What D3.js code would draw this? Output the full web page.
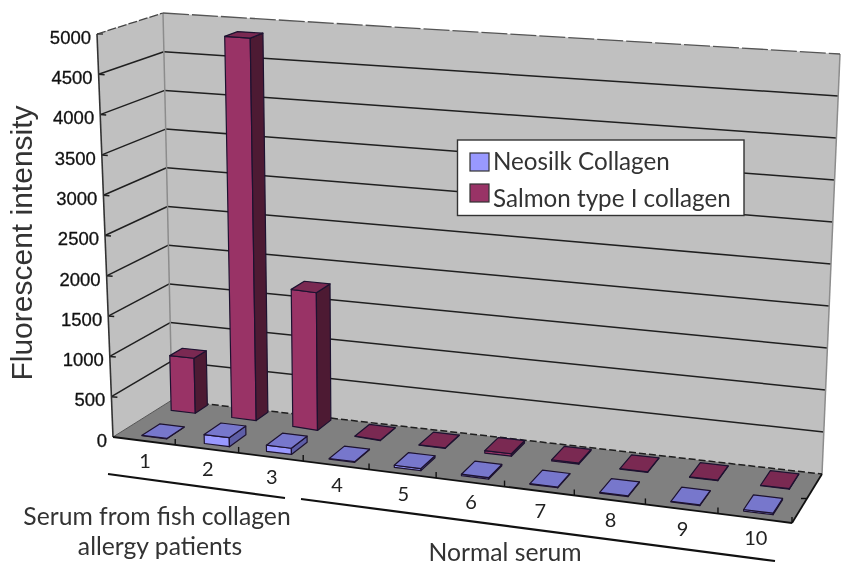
<!DOCTYPE html>
<html><head><meta charset="utf-8">
<script src="https://cdn.jsdelivr.net/npm/d3@7/dist/d3.min.js"></script>
<style>html,body{margin:0;padding:0;background:#fff}svg{display:block;filter:blur(0.6px)}</style>
</head><body><svg id="c" width="853" height="575"></svg>
<script>
const categories = ["1","2","3","4","5","6","7","8","9","10"];
const seriesNames = ["Neosilk Collagen","Salmon type I collagen"];
const neosilk = [5,110,75,8,25,18,8,8,8,18];
const salmon = [700,4830,1720,6,6,30,15,6,6,6];
const yTicks = [0,500,1000,1500,2000,2500,3000,3500,4000,4500,5000];
const groupNotes = [
  {lines:["Serum from fish collagen","allergy patients"]},
  {lines:["Normal serum"]}
];

const svg = d3.select("#c");
// Box corners: floor (F) and top (T); l/r = left/right, f/b = front/back
const F = {lf:[113,437],rf:[792,523],lb:[172,400],rb:[822,474]};
const T = {lf:[97,34],rf:[816,85],lb:[163,13],rb:[840,54]};
const lerp=(a,b,t)=>[a[0]+(b[0]-a[0])*t,a[1]+(b[1]-a[1])*t];
const bil=(C,u,w)=>lerp(lerp(C.lf,C.rf,u),lerp(C.lb,C.rb,u),w);
const P=(u,v,w)=>lerp(bil(F,u,w),bil(T,u,w),v);
// near the left wall the far row recedes and compresses, as the original's perspective does
const nearLeft=u=>Math.max(0,Math.min(1,(0.35-u)/0.2));
const PB=(u,v,w)=>{
  const k=nearLeft(u), far=w>0.5;
  const w2=far?w+k*(0.123-0.307*(w-0.637)):w;
  return P(u+k*(far?-0.007:0.006),v,w2);
};

const warp=t=>0.908*t/(1-0.092*t);
const xBand=d3.scaleBand().domain(categories).range([0,1]).paddingInner(0.6).paddingOuter(0.3);
const xEdge=d3.scaleLinear().domain([0,categories.length]).range([0,1]);
const yVal=d3.scaleLinear().domain([0,5000]).range([0,1]);
const zBand=d3.scaleBand().domain(seriesNames).range([0.006,1.046]).paddingInner(0.423).paddingOuter(0.2);
const line=d3.line();
const poly=(pts,fill,stroke,sw)=>svg.append("path").attr("d",line(pts)+"Z").attr("fill",fill).attr("stroke",stroke||"none").attr("stroke-width",sw||1).attr("stroke-linejoin","round");
const seg=(a,b,stroke,sw,dash)=>svg.append("path").attr("d",line([a,b])).attr("fill","none").attr("stroke",stroke).attr("stroke-width",sw).attr("stroke-dasharray",dash||null);

// walls and floor
poly([P(0,0,1),P(1,0,1),P(1,1,1),P(0,1,1)],"#c0c0c0");
poly([P(0,0,0),P(0,0,1),P(0,1,1),P(0,1,0)],"#c0c0c0");
poly([P(0,0,0),P(1,0,0),P(1,0,1),P(0,0,1)],"#808080");
// grid lines
yTicks.filter(d=>d>0&&d<5000).forEach(d=>{
  const v=yVal(d);
  seg(P(0,v,0),P(0,v,1),"#1f1f1f",1.5);
  seg(P(0,v,1),P(1,v,1),"#1f1f1f",1.5);
  seg(P(0,v,0),[P(0,v,0)[0]+6,P(0,v,0)[1]+0.5],"#1f1f1f",1.5);
});
// wall edges
seg(P(0,1,1),P(0,0,1),"#8c8c8c",1.5);
seg(P(1,1,1),P(1,0,1),"#8c8c8c",1.5);
seg(P(0,1,0),P(0,1,1),"#444",1.3,"9 2");
seg(P(0,1,1),P(1,1,1),"#555",1.3,"26 3");
seg(P(0,0,1),P(1,0,1),"#1f1f1f",1.5,"7 3");
seg(P(0,0,0),P(0,0,1),"#555",1);
seg(P(0,1,0),P(0,0,0),"#333",1.6);
seg(P(0,1,0),[P(0,1,0)[0]+6,P(0,1,0)[1]],"#333",1.4);
seg(P(0,0,0),P(1,0,0),"#111",1.8);
seg(P(1,0,0),P(1,0,1),"#111",1.8);
// axis ticks
d3.range(1,categories.length+1).forEach(i=>{
  const p=P(warp(xEdge(i)),0,0);
  seg(p,[p[0],p[1]-6],"#111",1.4);
});
{const p=P(1,0,0.5); seg(p,[p[0]-6,p[1]],"#111",1.4);}

// bars
const palettes={
  "Neosilk Collagen":{front:"#9999ff",side:"#5e5ea6",top:"#7777cc"},
  "Salmon type I collagen":{front:"#993366",side:"#4d1a33",top:"#7a2952"}
};
function bar(cat,name,val){
  const u0=warp(xBand(cat)),u1=warp(xBand(cat)+xBand.bandwidth());
  const w0=zBand(name),w1=w0+zBand.bandwidth(),v=yVal(val),c=palettes[name];
  poly([PB(u0,v,w0),PB(u1,v,w0),PB(u1,0,w0),PB(u0,0,w0)],c.front,"#1d1230",1.2);
  poly([PB(u1,0,w0),PB(u1,0,w1),PB(u1,v,w1),PB(u1,v,w0)],c.side,"#1d1230",1.2);
  poly([PB(u0,v,w0),PB(u1,v,w0),PB(u1,v,w1),PB(u0,v,w1)],c.top,"#1d1230",1.2);
}
categories.forEach((c,i)=>bar(c,seriesNames[1],salmon[i]));
categories.forEach((c,i)=>bar(c,seriesNames[0],neosilk[i]));

// value labels
svg.append("g").selectAll("text").data(yTicks).join("text")
  .attr("x",d=>P(0,yVal(d),0)[0]-6)
  .attr("y",d=>P(0,yVal(d),0)[1]+9.7)
  .attr("text-anchor","end").attr("font-family","Liberation Sans").attr("font-size",18.5)
  .attr("fill","#111").attr("stroke","#111").attr("stroke-width",0.3).text(d=>d);
// category labels
svg.append("g").selectAll("text").data(categories).join("text")
  .attr("x",d=>P(warp(xBand(d)+xBand.bandwidth()/2),0,0)[0]+1)
  .attr("y",d=>P(warp(xBand(d)+xBand.bandwidth()/2),0,0)[1]+27)
  .attr("text-anchor","middle").attr("font-family","Lato").attr("font-size",20)
  .attr("fill","#222").text(d=>d);
// axis title
svg.append("text").attr("transform","translate(32,243) rotate(-90)")
  .attr("text-anchor","middle").attr("font-family","Liberation Sans").attr("font-size",30)
  .attr("fill","#333").text("Fluorescent intensity");
// group brackets
seg([108,474],[285,498],"#111",2.2);
seg([301,499],[775,561],"#111",2.2);
const noteFont={"font-family":"Lato","font-size":24.7,"fill":"#333"};
const note=(s,x,y)=>{const t=svg.append("text").attr("x",x).attr("y",y).attr("text-anchor","middle").text(s);
  Object.entries(noteFont).forEach(([k,v])=>t.attr(k,v));};
note(groupNotes[0].lines[0],157,525);
note(groupNotes[0].lines[1],160,555);
note(groupNotes[1].lines[0],505,561);

// legend
svg.append("rect").attr("x",457.5).attr("y",140).attr("width",286.5).attr("height",75.5).attr("fill","#fff").attr("stroke","#333").attr("stroke-width",1.4);
seriesNames.forEach((n,i)=>{
  svg.append("rect").attr("x",470).attr("y",153+i*31).attr("width",19).attr("height",18)
    .attr("fill",palettes[n].front).attr("stroke","#333").attr("stroke-width",1.2);
  svg.append("text").attr("x",493).attr("y",170+i*37).attr("font-family","Lato").attr("font-size",24.2).attr("fill","#333").text(n);
});
</script></body></html>
